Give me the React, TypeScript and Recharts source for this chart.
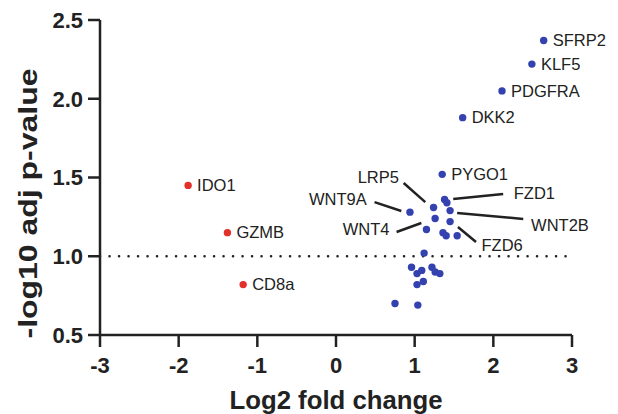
import { ScatterChart, Scatter, XAxis, YAxis, ReferenceLine } from 'recharts';

// up-regulated / wnt-pathway genes (blue); '' = unlabelled point
const upGenes = [
  'SFRP2', 'KLF5', 'PDGFRA', 'DKK2', 'PYGO1', '', '', '', '', '', '', '', '', '',
  '', '', '', '', '', '', '', '', '', '', '', '', '',
];
const upLog2FC = [
  2.64, 2.49, 2.11, 1.61, 1.35, 1.38, 1.41, 1.24, 0.94, 1.45, 1.26, 1.45, 1.15, 1.36,
  1.40, 1.54, 1.12, 0.96, 1.03, 1.09, 1.22, 1.26, 1.32, 1.03, 1.11, 0.75, 1.04,
];
const upNegLog10P = [
  2.37, 2.22, 2.05, 1.88, 1.52, 1.36, 1.34, 1.31, 1.28, 1.29, 1.24, 1.22, 1.17, 1.15,
  1.13, 1.13, 1.02, 0.93, 0.89, 0.91, 0.93, 0.90, 0.89, 0.82, 0.84, 0.70, 0.69,
];

// immune genes (red)
const downGenes = ['IDO1', 'GZMB', 'CD8a'];
const downLog2FC = [-1.88, -1.38, -1.18];
const downNegLog10P = [1.45, 1.15, 0.82];

const xTicks = [-3, -2, -1, 0, 1, 2, 3];
const yTicks = [0.5, 1.0, 1.5, 2.0, 2.5];
const threshold = 1.0;

// callout labels with leader lines (data coords)
const callouts = [
  { name: 'LRP5', x: 0.80, y: 1.50, anchor: 'end', from: [0.86, 1.465], to: [1.135, 1.344] },
  { name: 'WNT9A', x: 0.39, y: 1.36, anchor: 'end', from: [0.49, 1.344], to: [0.83, 1.287] },
  { name: 'WNT4', x: 0.68, y: 1.17, anchor: 'end', from: [0.77, 1.154], to: [1.085, 1.211] },
  { name: 'FZD1', x: 2.26, y: 1.40, anchor: 'start', from: [1.49, 1.363], to: [2.125, 1.395] },
  { name: 'WNT2B', x: 2.48, y: 1.20, anchor: 'start', from: [1.54, 1.275], to: [2.38, 1.237] },
  { name: 'FZD6', x: 1.85, y: 1.07, anchor: 'start', from: [1.55, 1.186], to: [1.78, 1.09] },
];

const BLUE = '#3442b0';
const RED = '#e3302b';
const INK = '#222';
const FONT = '"Liberation Sans", Arial, sans-serif';

const upData = upGenes.map((g, i) => ({ name: g, x: upLog2FC[i], y: upNegLog10P[i] }));
const downData = downGenes.map((g, i) => ({ name: g, x: downLog2FC[i], y: downNegLog10P[i] }));
const calloutData = callouts.map(c => ({ name: c.name, x: c.x, y: c.y, anchor: c.anchor }));

const makeDot = (color: string) => (props: any) => {
  const { cx, cy, payload } = props;
  return (
    <g>
      <circle cx={cx} cy={cy} r={3.7} fill={color} />
      {payload.name && (
        <text x={cx + 9} y={cy} dy="0.35em" fontSize={16.5} fill={INK} fontFamily={FONT}>
          {payload.name}
        </text>
      )}
    </g>
  );
};

const calloutText = (props: any) => {
  const { cx, cy, payload } = props;
  return (
    <text x={cx} y={cy} dy="0.35em" textAnchor={payload.anchor} fontSize={16.5} fill={INK} fontFamily={FONT}>
      {payload.name}
    </text>
  );
};

const YLabel = (props: any) => {
  const { viewBox } = props;
  const cx = viewBox.x + 37;
  const cy = viewBox.y + viewBox.height / 2 + 26;
  return (
    <text
      transform={`translate(${cx},${cy}) rotate(-90)`}
      textAnchor="middle"
      fontSize={26}
      fontWeight="bold"
      fill={INK}
      fontFamily={FONT}
      textLength={270}
      lengthAdjust="spacingAndGlyphs"
    >
      -log10 adj p-value
    </text>
  );
};

const XLabel = (props: any) => {
  const { viewBox } = props;
  return (
    <text
      x={viewBox.x + viewBox.width / 2}
      y={409}
      textAnchor="middle"
      fontSize={25}
      fontWeight="bold"
      fill={INK}
      fontFamily={FONT}
      textLength={213}
      lengthAdjust="spacingAndGlyphs"
    >
      Log2 fold change
    </text>
  );
};

const tickStyle = { fill: INK, fontSize: 22, fontWeight: 'bold', fontFamily: FONT };
const lineStyle = { stroke: INK, strokeWidth: 2.5 };

export default function App() {
  return (
    <div style={{ position: 'absolute', left: 0, top: 0, width: 618, height: 414, background: '#fff' }}>
      <ScatterChart width={618} height={414} margin={{ top: 20, right: 46, bottom: 0, left: 0 }}>
        <XAxis
          type="number"
          dataKey="x"
          domain={[-3, 3]}
          ticks={xTicks}
          axisLine={lineStyle}
          tickLine={lineStyle}
          tickSize={12}
          tickMargin={10}
          tick={tickStyle}
          height={79}
          label={<XLabel />}
        />
        <YAxis
          type="number"
          dataKey="y"
          domain={[0.5, 2.5]}
          ticks={yTicks}
          tickFormatter={(v: number) => v.toFixed(1)}
          axisLine={lineStyle}
          tickLine={lineStyle}
          tickSize={12}
          tickMargin={5}
          tick={tickStyle}
          width={100}
          label={<YLabel />}
        />
        <ReferenceLine
          y={threshold}
          stroke={INK}
          strokeWidth={2.5}
          strokeDasharray="0.1 9.4"
          strokeLinecap="round"
        />
        {callouts.map(c => (
          <ReferenceLine
            key={c.name}
            segment={[{ x: c.from[0], y: c.from[1] }, { x: c.to[0], y: c.to[1] }]}
            stroke={INK}
            strokeWidth={2.5}
          />
        ))}
        <Scatter data={downData} fill={RED} shape={makeDot(RED)} isAnimationActive={false} />
        <Scatter data={upData} fill={BLUE} shape={makeDot(BLUE)} isAnimationActive={false} />
        <Scatter data={calloutData} fill="none" shape={calloutText} isAnimationActive={false} />
      </ScatterChart>
    </div>
  );
}
